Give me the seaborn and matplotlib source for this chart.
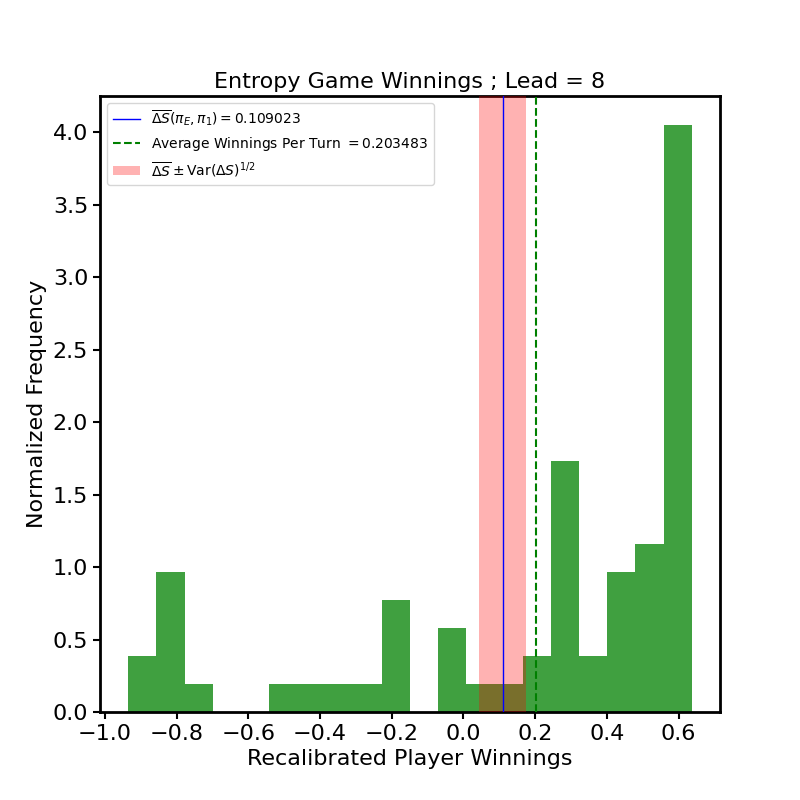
import numpy as np
import pandas as pd
import matplotlib
matplotlib.use("Agg")
import matplotlib.pyplot as plt
import seaborn as sns

# histogram: 20 equal bins, counts per bin (66 games)
bin_lo = -0.935
bin_hi = 0.637
n_bins = 20
counts = [2, 5, 1, 0, 0, 1, 1, 1, 1, 4, 0, 3, 1, 1, 2, 9, 2, 5, 6, 21]

mean_ds = 0.109023
std_ds = 0.0665
avg_win = 0.203483

edges = np.linspace(bin_lo, bin_hi, n_bins + 1)
df = pd.DataFrame({"w": (edges[:-1] + edges[1:]) / 2, "n": counts})

plt.rcParams['font.size'] = 16
fig, ax = plt.subplots(figsize=(8, 8), dpi=100)

sns.histplot(data=df, x="w", weights="n", bins=n_bins, binrange=(bin_lo, bin_hi),
             stat='density', color='g', alpha=0.75, linewidth=0, ax=ax)

ax.axvline(mean_ds, color='b', lw=1,
           label=r'$\overline{\Delta S}(\pi_E,\pi_1) = 0.109023$', zorder=5)
ax.axvline(avg_win, color='g', ls='--', lw=1.5,
           label=r'Average Winnings Per Turn $= 0.203483$', zorder=5)
ax.axvspan(mean_ds - std_ds, mean_ds + std_ds, color='r', alpha=0.3, lw=0,
           label=r'$\overline{\Delta S} \pm \mathrm{Var}(\Delta S)^{1/2}$', zorder=3)

ax.set_yticks(np.arange(0, 4.01, 0.5))
ax.set_title("Entropy Game Winnings ; Lead = 8", fontsize=16)
ax.set_xlabel("Recalibrated Player Winnings", fontsize=16)
ax.set_ylabel("Normalized Frequency", fontsize=16)
ax.tick_params(labelsize=16, width=1.5, length=5)
for s in ax.spines.values():
    s.set_linewidth(2)
ax.legend(loc='upper left', fontsize=10)

fig.savefig("out.png", dpi=100)
